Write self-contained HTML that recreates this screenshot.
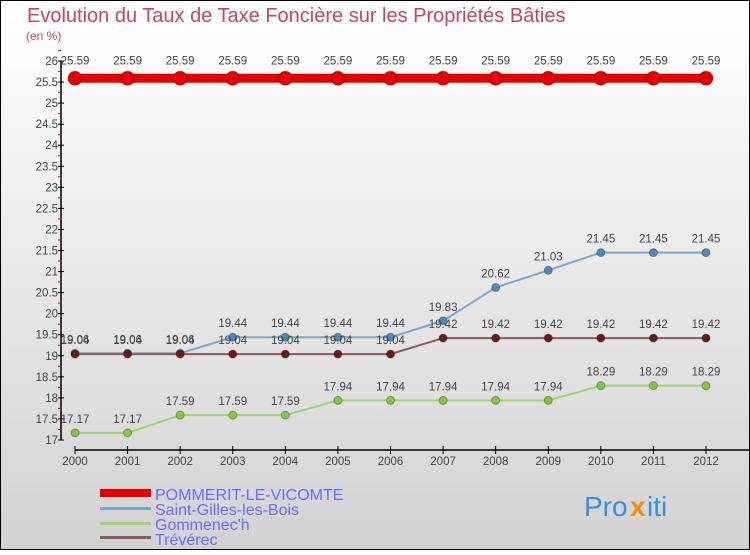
<!DOCTYPE html>
<html><head><meta charset="utf-8"><style>
body{margin:0}
#c{width:750px;height:550px;position:relative;font-family:"Liberation Sans",sans-serif}
</style></head><body>
<div id="c">
<svg id="s" width="750" height="550" xmlns="http://www.w3.org/2000/svg">
<defs><linearGradient id="bg" x1="0" y1="0" x2="0" y2="1"><stop offset="0" stop-color="#ffffff"/><stop offset="1" stop-color="#d2d2d2"/></linearGradient></defs>
<rect x="0.5" y="0.5" width="749" height="549" fill="url(#bg)" stroke="#000"/>
<text x="27" y="22" font-size="20" fill="#d04068">Evolution du Taux de Taxe Foncière sur les Propriétés Bâties</text>
<text x="26" y="40" font-size="12" fill="#d04068">(en %)</text>
<g id="axes"></g><g id="series"></g>
<g>
<rect x="100" y="489" width="51" height="8" fill="#e60000"/>
<text x="155" y="500" font-size="16" fill="#6a6aff">POMMERIT-LE-VICOMTE</text>
<rect x="100" y="507" width="51" height="3" fill="#7aa8cc"/>
<text x="155" y="515" font-size="16" fill="#6a6aff">Saint-Gilles-les-Bois</text>
<rect x="100" y="522" width="51" height="3" fill="#9ad66e"/>
<text x="155" y="530" font-size="16" fill="#6a6aff">Gommenec'h</text>
<rect x="100" y="536" width="51" height="3" fill="#8c5a5a"/>
<text x="155" y="545" font-size="16" fill="#6a6aff">Trévérec</text>
</g>
<g font-size="28">
<text x="584" y="516" fill="#3a8ed8">Pro</text><text x="630" y="516" fill="#f08a1c" font-weight="bold">x</text><text x="647" y="516" fill="#3a8ed8">iti</text>
</g>
</svg>
</div>
<script>
const years=[2000,2001,2002,2003,2004,2005,2006,2007,2008,2009,2010,2011,2012];
const yTicks=[17,17.5,18,18.5,19,19.5,20,20.5,21,21.5,22,22.5,23,23.5,24,24.5,25,25.5,26];
const pommerit=[25.59,25.59,25.59,25.59,25.59,25.59,25.59,25.59,25.59,25.59,25.59,25.59,25.59];
const saintGilles=[19.06,19.06,19.06,19.44,19.44,19.44,19.44,19.83,20.62,21.03,21.45,21.45,21.45];
const gommenech=[17.17,17.17,17.59,17.59,17.59,17.94,17.94,17.94,17.94,17.94,18.29,18.29,18.29];
const treverec=[19.04,19.04,19.04,19.04,19.04,19.04,19.04,19.42,19.42,19.42,19.42,19.42,19.42];
const NS="http://www.w3.org/2000/svg";
const X=i=>75+i*(706-75)/(years.length-1);
const Y=v=>440-(v-17)*(440-61)/9;
function mk(t,a,p){const e=document.createElementNS(NS,t);for(const k in a)e.setAttribute(k,a[k]);p.appendChild(e);return e;}
const ax=document.getElementById('axes');
const yl=mk('line',{x1:61,y1:61,x2:61,y2:440,stroke:'#000','stroke-width':1.5},ax);


yTicks.forEach(v=>{
 const t=mk('line',{x1:58,y1:Y(v),x2:64,y2:Y(v),stroke:'#000'},ax);
 
 
 const m=mk('line',{x1:58,y1:Y(v+0.25),x2:61,y2:Y(v+0.25),stroke:'#e00'},ax);
 
 
 const l=mk('text',{x:58,y:Y(v)+4,'font-size':11.5,fill:'#444','text-anchor':'end'},ax);
 l.textContent=v;
 
 
});
const xl=mk('line',{x1:75,y1:450,x2:750,y2:450,stroke:'#000','stroke-width':1.5},ax);


years.forEach((y,i)=>{
 const t=mk('line',{x1:X(i),y1:446,x2:X(i),y2:454,stroke:'#000'},ax);
 
 
 const l=mk('text',{x:X(i),y:465,'font-size':11.5,fill:'#444','text-anchor':'middle'},ax);
 l.textContent=y;
 
 
});
const sg=document.getElementById('series');
function series(vals,name,col,dot,w,r){
 const g=mk('g',{},sg);
 
 
 const p=mk('polyline',{points:vals.map((v,i)=>X(i)+','+Y(v)).join(' '),fill:'none',stroke:col,'stroke-width':w},g);
 
 
 vals.forEach((v,i)=>{
  const c=mk('circle',{cx:X(i),cy:Y(v),r:r,fill:dot,stroke:'rgba(0,0,0,0.3)'},g);
  
  
  const t=mk('text',{x:X(i),y:Y(v)-(name==='pommerit'?14:10),'font-size':11.5,fill:'#444','text-anchor':'middle'},g);
  t.textContent=v;
  
  
 });
}
series(gommenech,'gommenech','#9ad66e','#7ccc3c',2,4);
series(saintGilles,'saint-gilles','#7aa8cc','#4a8ac8',2,4);
series(treverec,'treverec','#8c5a5a','#6a1a1a',2,4);
series(pommerit,'pommerit','#e60000','#e60000',9,7);
</script>
</body></html>
